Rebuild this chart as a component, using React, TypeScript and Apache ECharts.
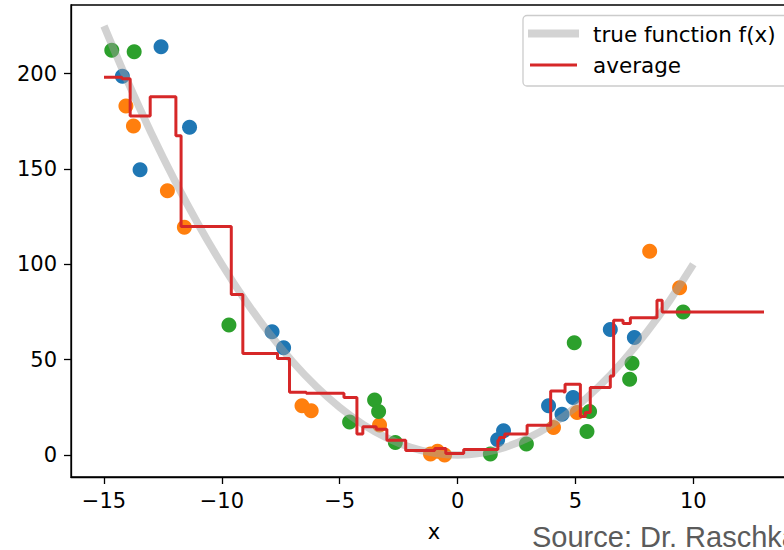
import React, { useEffect, useRef } from "react";
import * as echarts from "echarts";

// ---- data ----
const trueX = [-15, -14, -13, -12, -11, -10, -9, -8, -7, -6, -5, -4, -3, -2, -1, 0, 1, 2, 3, 4, 5, 6, 7, 8, 9, 10];
const trueY = [225, 196, 169, 144, 121, 100, 81, 64, 49, 36, 25, 16, 9, 4, 1, 0, 1, 4, 9, 16, 25, 36, 49, 64, 81, 100];

const avgX = [-15, -14.24, -13.89, -13.04, -11.95, -11.73, -9.6, -9.11, -7.64, -7.13, -6.42, -4.82, -4.27, -4.02, -3.45, -3.0, -2.2, -0.97, -0.5, 0.26, 1.71, 1.78, 2.0, 2.95, 3.95, 4.5, 4.56, 5.21, 5.42, 5.63, 6.48, 6.62, 7.02, 7.33, 8.46, 8.68, 13.0];
const avgY = [198.1, 197.3, 177.8, 187.9, 167.5, 119.9, 84.2, 53.2, 50.6, 33.0, 32.4, 30.2, 11.0, 14.8, 13.6, 7.8, 2.4, 3.4, 0.8, 2.9, 7.8, 9.2, 11.0, 15.7, 33.6, 33.1, 37.1, 20.2, 22.3, 35.4, 41.5, 70.7, 69.0, 72.0, 81.2, 75.0, 75.0];

const blueX = [-14.22, -12.58, -13.47, -11.37, -7.87, -7.38, 1.7, 1.95, 3.86, 4.43, 4.9, 6.48, 7.5];
const blueY = [198.7, 214.1, 149.6, 171.9, 64.7, 56.3, 8.0, 12.7, 25.8, 21.4, 30.2, 65.9, 61.6];

const orangeX = [-14.07, -13.75, -12.31, -11.59, -6.6, -6.21, -3.31, -1.15, -0.85, -0.55, 4.07, 5.07, 8.15, 9.42];
const orangeY = [183.1, 172.6, 138.6, 119.4, 25.8, 23.2, 15.8, 0.6, 2.0, 0.0, 14.5, 22.3, 106.9, 87.7];

const greenX = [-14.67, -13.72, -9.7, -4.58, -3.52, -3.35, -2.64, 1.39, 2.92, 4.95, 5.49, 5.6, 7.3, 7.4, 9.57];
const greenY = [212.3, 211.5, 68.2, 17.4, 28.9, 22.9, 6.6, 0.5, 5.8, 58.9, 12.4, 22.9, 39.7, 48.1, 75.0];

const xTicks = [-15, -10, -5, 0, 5, 10];
const yTicks = [0, 50, 100, 150, 200];

const zip = (xs: number[], ys: number[]) => xs.map((x, i) => [x, ys[i]]);
const fmt = (v: number) => (v < 0 ? "\u2212" + Math.abs(v) : String(v));

const FONT = "DejaVu Sans";

export default function App() {
  const ref = useRef<HTMLDivElement>(null);

  useEffect(() => {
    if (!ref.current) return;
    const chart = echarts.init(ref.current, null, { renderer: "svg" });
    const scatter = (data: number[][], color: string) => ({
      type: "scatter",
      data,
      symbolSize: 15,
      itemStyle: { color, opacity: 1 },
      z: 2,
    });
    chart.setOption({
      animation: false,
      backgroundColor: "#fff",
      textStyle: { fontFamily: FONT },
      grid: {
        left: 71,
        top: 5,
        right: 13,
        bottom: 73,
        show: true,
        borderColor: "#000",
        borderWidth: 1.3,
        backgroundColor: "transparent",
      },
      xAxis: {
        type: "value",
        min: -16.4,
        max: 14.4,
        name: "x",
        nameLocation: "middle",
        nameGap: 44,
        nameTextStyle: { fontSize: 21, color: "#000", fontFamily: FONT },
        splitLine: { show: false },
        axisLine: { show: true, onZero: false, lineStyle: { color: "#000", width: 1.3 } },
        axisTick: { show: true, length: 7, lineStyle: { color: "#000", width: 1.3 }, customValues: xTicks },
        axisLabel: { fontSize: 21, color: "#000", margin: 13, fontFamily: FONT, customValues: xTicks, formatter: fmt },
      },
      yAxis: {
        type: "value",
        min: -11.5,
        max: 236,
        splitLine: { show: false },
        axisLine: { show: true, onZero: false, lineStyle: { color: "#000", width: 1.3 } },
        axisTick: { show: true, length: 7, lineStyle: { color: "#000", width: 1.3 }, customValues: yTicks },
        axisLabel: { fontSize: 21, color: "#000", margin: 14, fontFamily: FONT, customValues: yTicks, formatter: fmt },
      },
      series: [
        scatter(zip(blueX, blueY), "#1f77b4"),
        scatter(zip(orangeX, orangeY), "#ff7f0e"),
        scatter(zip(greenX, greenY), "#2ca02c"),
        {
          type: "line",
          name: "true function f(x)",
          data: zip(trueX, trueY),
          showSymbol: false,
          smooth: 0.3,
          lineStyle: { color: "#a0a0a0", width: 7.5, opacity: 0.47, cap: "butt" },
          z: 3,
        },
        {
          type: "line",
          name: "average",
          data: zip(avgX, avgY),
          step: "end",
          showSymbol: false,
          lineStyle: { color: "#d62728", width: 3 },
          z: 4,
        },
      ],
      graphic: [
        {
          type: "rect",
          shape: { x: 523, y: 15.5, width: 300, height: 70.5, r: 4 },
          style: { fill: "rgba(255,255,255,0.8)", stroke: "#cccccc", lineWidth: 1.3 },
          z: 10,
        },
        {
          type: "line",
          shape: { x1: 528, y1: 33.5, x2: 579, y2: 33.5 },
          style: { stroke: "#d3d3d3", lineWidth: 8 },
          z: 11,
        },
        {
          type: "line",
          shape: { x1: 530, y1: 65, x2: 577, y2: 65 },
          style: { stroke: "#d62728", lineWidth: 3 },
          z: 11,
        },
        {
          type: "text",
          x: 593,
          y: 34,
          style: { text: "true function f(x)", fontSize: 21.5, fontFamily: FONT, fill: "#000", verticalAlign: "middle", align: "left" },
          z: 11,
        },
        {
          type: "text",
          x: 593,
          y: 65,
          style: { text: "average", fontSize: 21.5, fontFamily: FONT, fill: "#000", verticalAlign: "middle", align: "left" },
          z: 11,
        },
        {
          type: "text",
          x: 532,
          y: 537,
          style: { text: "Source: Dr. Raschka", fontSize: 29, fontFamily: "Liberation Sans", fill: "#5b5b5b", verticalAlign: "middle", align: "left" },
          z: 11,
        },
      ],
    });
    return () => chart.dispose();
  }, []);

  return (
    <div style={{ position: "absolute", left: 0, top: 0, width: 784, height: 550, overflow: "hidden", background: "#fff" }}>
      <div ref={ref} style={{ width: 810, height: 550 }} />
    </div>
  );
}
